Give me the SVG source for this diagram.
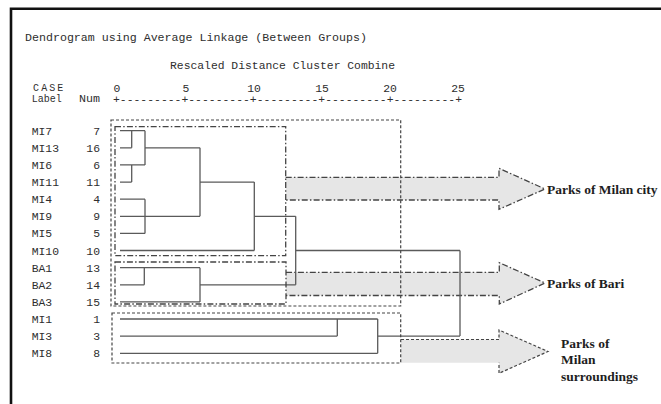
<svg xmlns="http://www.w3.org/2000/svg" width="661" height="404" viewBox="0 0 661 404">
<style>
.mono{font-family:"Liberation Mono","Courier New",monospace;font-size:11.4px;fill:#2e2e2e}
.small{font-size:10px}
.lbl{font-family:"Liberation Serif","Times New Roman",serif;font-size:13.5px;font-weight:bold;fill:#1e1e1e}
.dg{fill:none;stroke:#5a5a5a;stroke-width:1.3}
.dot{fill:none;stroke:#444;stroke-width:1.2;stroke-dasharray:3 2}
.dd{fill:none;stroke:#444;stroke-width:1.3;stroke-dasharray:6 2.2 1.5 2.2}
.afill{fill:#e6e6e6;stroke:none}
</style>
<rect width="661" height="404" fill="#fff"/>
<path d="M11,404 V8.7 H661" fill="none" stroke="#111" stroke-width="2.6"/>
<g id="titles">
<text class="mono" x="25" y="41" textLength="342" lengthAdjust="spacingAndGlyphs">Dendrogram using Average Linkage (Between Groups)</text>
<text class="mono" x="170" y="68.5" textLength="225" lengthAdjust="spacingAndGlyphs">Rescaled Distance Cluster Combine</text>
<text class="mono small" x="33 37.2 41.3 45.3 49.3 53.2 57.2" y="91">C A S E</text>
<text class="mono small" x="31.7" y="102">Label</text>
<text class="mono" x="79" y="102" textLength="21" lengthAdjust="spacingAndGlyphs">Num</text>
</g>
<g id="axis">
<g class="mono" text-anchor="middle">
<text x="117" y="91.5">0</text>
<text x="186" y="91.5">5</text>
<text x="254" y="91.5">10</text>
<text x="322" y="91.5">15</text>
<text x="390" y="91.5">20</text>
<text x="458" y="91.5">25</text>
</g>
<text class="mono" x="113" y="102.5" textLength="349" lengthAdjust="spacingAndGlyphs">+---------+---------+---------+---------+---------+</text>
</g>
<g id="leaves" class="mono">
<g id="leaf-MI7"><text x="31.7" y="134.7">MI7</text><text x="100" y="134.7" text-anchor="end">7</text></g>
<g id="leaf-MI13"><text x="31.7" y="151.8">MI13</text><text x="100" y="151.8" text-anchor="end">16</text></g>
<g id="leaf-MI6"><text x="31.7" y="168.9">MI6</text><text x="100" y="168.9" text-anchor="end">6</text></g>
<g id="leaf-MI11"><text x="31.7" y="186.1">MI11</text><text x="100" y="186.1" text-anchor="end">11</text></g>
<g id="leaf-MI4"><text x="31.7" y="203.2">MI4</text><text x="100" y="203.2" text-anchor="end">4</text></g>
<g id="leaf-MI9"><text x="31.7" y="220.3">MI9</text><text x="100" y="220.3" text-anchor="end">9</text></g>
<g id="leaf-MI5"><text x="31.7" y="237.4">MI5</text><text x="100" y="237.4" text-anchor="end">5</text></g>
<g id="leaf-MI10"><text x="31.7" y="254.5">MI10</text><text x="100" y="254.5" text-anchor="end">10</text></g>
<g id="leaf-BA1"><text x="31.7" y="271.7">BA1</text><text x="100" y="271.7" text-anchor="end">13</text></g>
<g id="leaf-BA2"><text x="31.7" y="288.8">BA2</text><text x="100" y="288.8" text-anchor="end">14</text></g>
<g id="leaf-BA3"><text x="31.7" y="305.9">BA3</text><text x="100" y="305.9" text-anchor="end">15</text></g>
<g id="leaf-MI1"><text x="31.7" y="323">MI1</text><text x="100" y="323" text-anchor="end">1</text></g>
<g id="leaf-MI3"><text x="31.7" y="340.1">MI3</text><text x="100" y="340.1" text-anchor="end">3</text></g>
<g id="leaf-MI8"><text x="31.7" y="357.3">MI8</text><text x="100" y="357.3" text-anchor="end">8</text></g>
</g>
<g id="arrow-milan-city">
<path class="afill" d="M285.7,177.3 H499 V168.3 L545,189 L499,209.3 V200 H285.7 Z"/>
<path class="dd" d="M285.7,177.3 H499 V168.3 L545,189 L499,209.3 V200 H285.7"/>
<text class="lbl" x="547" y="193.5">Parks of Milan city</text>
</g>
<g id="arrow-bari">
<path class="afill" d="M286,272.3 H499.3 V262.7 L545,283 L499.3,304 V295.5 H286 Z"/>
<path class="dd" d="M286,272.3 H499.3 V262.7 L545,283 L499.3,304 V295.5 H286"/>
<text class="lbl" x="547" y="287.5">Parks of Bari</text>
</g>
<g id="arrow-milan-surroundings">
<path class="afill" d="M401,339.5 H499 V330 L548,351.5 L499,373.3 V362.7 H401 Z"/>
<path class="dot" d="M401,339.5 H499 V330 L548,351.5 L499,373.3 V362.7"/>
<text class="lbl" x="561" y="348">Parks of</text>
<text class="lbl" x="561" y="364">Milan</text>
<text class="lbl" x="561" y="381">surroundings</text>
</g>
<g id="connectors">
<path class="dg" d="M120,130.7 H145 M120,147.8 H131.7 M131.7,130.7 V147.8 M145,130.7 V164.9 M120,164.9 H145 M120,182.1 H131.7 M131.7,164.9 V182.1 M145,147.8 H200 M200,147.8 V216.3 M120,199.2 H145 M145,199.2 V233.4 M120,216.3 H200 M120,233.4 H145 M200,182.1 H254.3 M254.3,182.1 V250.5 M120,250.5 H254.3 M254.3,216.3 H295.7 M295.7,216.3 V284.8 M295.7,250.5 H460 M120,267.7 H200 M120,284.8 H144.3 M144.3,267.7 V284.8 M200,267.7 V301.9 M120,301.9 H200 M200,284.8 H295.7 M460,250.5 V336.1 M120,319 H377.7 M120,336.1 H337.3 M337.3,319 V336.1 M120,353.3 H377.7 M377.7,319 V353.3 M377.7,336.1 H460"/>
</g>
<g id="cluster-milan-bari"><rect class="dot" x="111" y="120" width="289.7" height="186"/></g>
<g id="cluster-milan-city"><rect class="dd" x="115" y="126.7" width="170.7" height="129"/></g>
<g id="cluster-bari"><rect class="dd" x="115" y="262" width="171" height="42"/></g>
<g id="cluster-milan-surroundings"><rect class="dot" x="112" y="313" width="288.7" height="50"/></g>
</svg>
